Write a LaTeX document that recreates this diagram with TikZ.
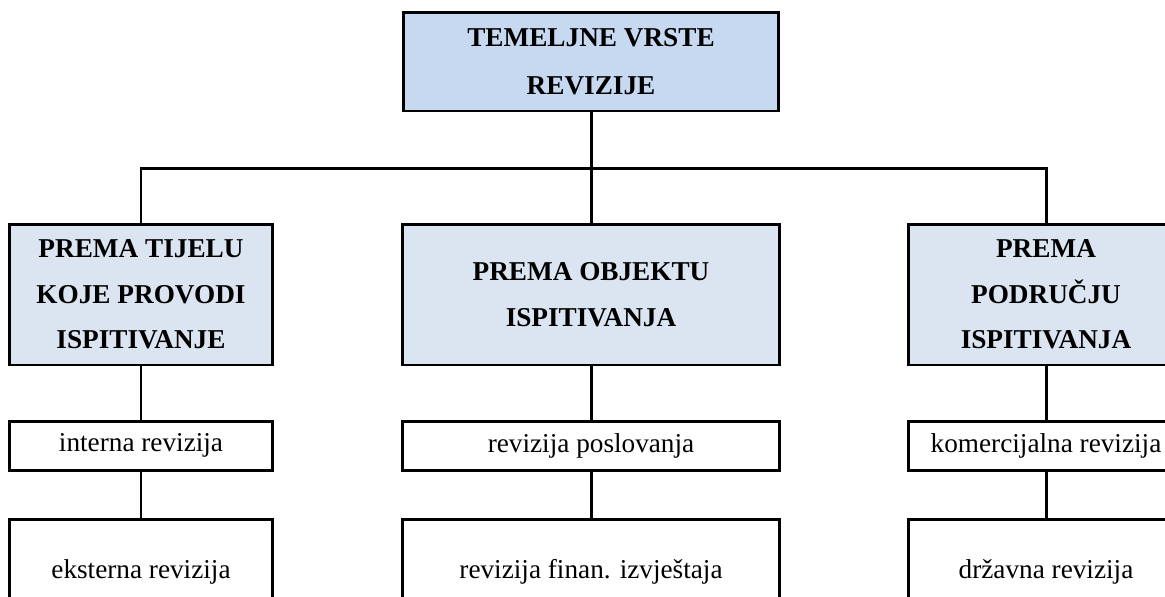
\documentclass[tikz,border=0pt]{standalone}
\usepackage{fontspec}
\setmainfont{Liberation Serif}
\definecolor{headblue}{HTML}{C6D9F1}
\definecolor{groupblue}{HTML}{DBE5F1}
\begin{document}
\begin{tikzpicture}[x=0.02cm,y=-0.02cm,
    box/.style={draw,line width=1.7pt,rectangle,align=center,inner sep=0pt,
      font=\fontsize{15.5}{26.5}\selectfont},
    headbox/.style={box,fill=headblue,minimum height=1.98cm,
      font=\bfseries\fontsize{15.5}{27}\selectfont},
    groupbox/.style={box,fill=groupblue,minimum height=2.82cm,
      font=\bfseries\fontsize{15.5}{26}\selectfont},
    kindbox/.style={box,minimum height=0.98cm},
    lowbox/.style={box,minimum height=2.12cm},
    link/.style={line width=1.7pt}]
    \path[use as bounding box,clip] (0,0) rectangle (1165,596);
    \node[headbox,minimum width=7.52cm] (vrste) at (591,61.5) {TEMELJNE VRSTE\\REVIZIJE};
    \node[groupbox,minimum width=5.28cm] (tijelo)   at (141,294.5) {PREMA TIJELU\\KOJE PROVODI\\ISPITIVANJE};
    \node[groupbox,minimum width=7.56cm] (objekt)   at (591,294.5) {PREMA OBJEKTU\\ISPITIVANJA};
    \node[groupbox,minimum width=5.52cm] (podrucje) at (1046,294.5) {PREMA\\PODRUČJU\\ISPITIVANJA};
    \node[kindbox,minimum width=5.28cm] (interna)     at (141,445.5) {interna revizija};
    \node[kindbox,minimum width=7.56cm] (poslovanje)  at (591,445.5) {revizija poslovanja};
    \node[kindbox,minimum width=5.52cm] (komercijal)  at (1046,445.5) {komercijalna revizija};
    \node[lowbox,minimum width=5.28cm] (eksterna)  at (141,572) {eksterna revizija};
    \node[lowbox,minimum width=7.56cm] (finan)     at (591,572) {revizija finan. izvještaja};
    \node[lowbox,minimum width=5.52cm] (drzavna)   at (1046,572) {državna revizija};
    \coordinate (bus) at (591,168);
    \draw[link] (vrste.south) -- (objekt.north);
    \draw[link] (tijelo.north) |- (podrucje.north |- bus) -- (podrucje.north);
    \foreach \a/\b/\c in {tijelo/interna/eksterna,objekt/poslovanje/finan,podrucje/komercijal/drzavna}
      \draw[link] (\a.south) -- (\b.north) (\b.south) -- (\c.north);
\end{tikzpicture}
\end{document}
